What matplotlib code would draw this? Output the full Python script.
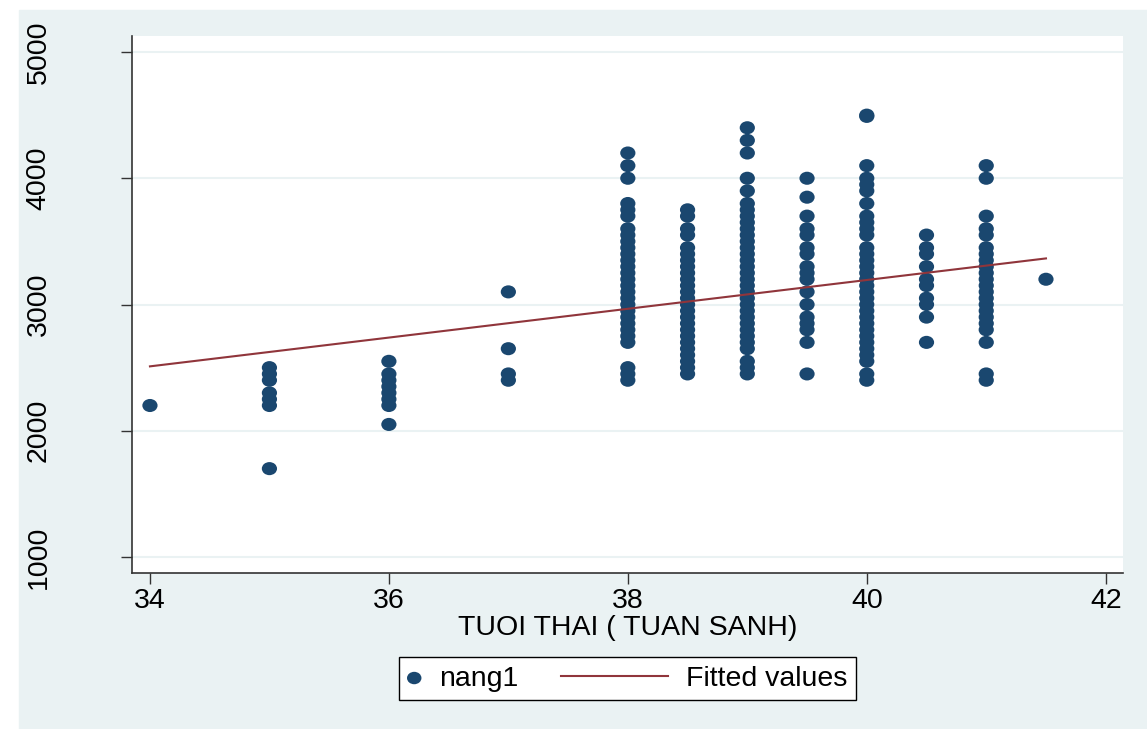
import matplotlib
matplotlib.use('Agg')
import matplotlib.pyplot as plt
from matplotlib.patches import Rectangle
from matplotlib.path import Path
from matplotlib.transforms import Affine2D
from matplotlib.lines import Line2D
from matplotlib.legend_handler import HandlerBase

plt.rcParams['font.family'] = ['Liberation Sans', 'DejaVu Sans']

# nang1 (birth weight, g) for each gestational week
w34 = [2200]
w35 = [2500, 2450, 2400, 2300, 2250, 2200, 1700]
w36 = [2550, 2450, 2400, 2350, 2300, 2250, 2200, 2050]
w37 = [3100, 2650, 2450, 2400]
w38 = [4200, 4100, 4000, 3800, 3750, 3700, 3600, 3550, 3500, 3450, 3400,
       3350, 3300, 3250, 3200, 3150, 3100, 3050, 3000, 2950, 2900, 2850,
       2800, 2750, 2700, 2500, 2450, 2400]
w38_5 = [3750, 3700, 3600, 3550, 3450, 3400, 3350, 3300, 3250, 3200, 3150,
         3100, 3050, 3000, 2950, 2900, 2850, 2800, 2750, 2700, 2650, 2600,
         2550, 2500, 2450]
w39 = [4400, 4300, 4200, 4000, 3900, 3800, 3750, 3700, 3650, 3600, 3550,
       3500, 3450, 3400, 3350, 3300, 3250, 3200, 3150, 3100, 3050, 3000,
       2950, 2900, 2850, 2800, 2750, 2700, 2650, 2550, 2500, 2450]
w39_5 = [4000, 3850, 3700, 3600, 3550, 3450, 3400, 3300, 3250, 3200, 3100,
         3000, 2900, 2850, 2800, 2700, 2450]
w40 = [4500, 4490, 4100, 4000, 3950, 3900, 3800, 3700, 3650, 3600, 3550,
       3450, 3400, 3350, 3300, 3250, 3200, 3150, 3100, 3050, 3000, 2950,
       2900, 2850, 2800, 2750, 2700, 2650, 2600, 2550, 2450, 2400]
w40_5 = [3550, 3450, 3400, 3300, 3200, 3150, 3050, 3000, 2900, 2700]
w41 = [4100, 4000, 3700, 3600, 3550, 3450, 3400, 3350, 3300, 3250, 3200,
       3150, 3100, 3050, 3000, 2950, 2900, 2850, 2800, 2700, 2450, 2400]
w41_5 = [3200]

weeks = [34, 35, 36, 37, 38, 38.5, 39, 39.5, 40, 40.5, 41, 41.5]
groups = [w34, w35, w36, w37, w38, w38_5, w39, w39_5, w40, w40_5, w41, w41_5]

# fitted values line (end points)
fit_x = [34, 41.5]
fit_y = [2510, 3365]

x = []
y = []
for wk, vals in zip(weeks, groups):
    x += [wk] * len(vals)
    y += vals

navy = '#1A476F'
maroon = '#90353B'
bg = '#EAF2F3'

# slightly flattened dot, like the stata export
dot = Path.unit_circle().transformed(Affine2D().scale(1, 0.86))


class LongLine(HandlerBase):
    # legend line longer than the (short) handle box, drawn leftwards
    def create_artists(self, legend, orig_handle, xdescent, ydescent,
                       width, height, fontsize, trans):
        yc = height / 2 - ydescent
        x1 = width - xdescent
        ln = Line2D([x1 - 77, x1], [yc, yc], color=maroon, linewidth=1.5)
        ln.set_transform(trans)
        return [ln]


fig = plt.figure(figsize=(11.47, 7.29), dpi=100, facecolor='white')
fig.patches.append(Rectangle((19 / 1147, 0), 1, 1 - 10 / 729,
                             transform=fig.transFigure, color=bg, zorder=-10))

ax = fig.add_axes([0.1148, 0.2144, 0.9791 - 0.1148, 0.9506 - 0.2144])
ax.set_facecolor('white')

ax.yaxis.grid(True, color=bg, linewidth=1.5)
ax.set_axisbelow(True)

pts = ax.scatter(x, y, s=120, marker=dot, color=navy, edgecolors='none',
                 zorder=3, label='nang1')
fit, = ax.plot(fit_x, fit_y, color=maroon, linewidth=1.5, zorder=4,
               label='Fitted values')

ax.set_xlim(33.847, 42.145)
ax.set_ylim(875.6, 5126.7)
ax.set_xticks([34, 36, 38, 40, 42])
ax.set_yticks([1000, 2000, 3000, 4000, 5000])

for s in ['top', 'right']:
    ax.spines[s].set_visible(False)
for s in ['left', 'bottom']:
    ax.spines[s].set_color('#333333')
    ax.spines[s].set_linewidth(1.2)

ax.tick_params(axis='both', direction='out', length=7.7, width=1.0,
               color='#333333', labelsize=20.5)
ax.tick_params(axis='x', pad=3)
ax.tick_params(axis='y', pad=50)
for lab in ax.get_yticklabels():
    lab.set_rotation(90)
    lab.set_va('center')

ax.set_xlabel('TUOI THAI ( TUAN SANH)', fontsize=20.5, labelpad=1)

leg = fig.legend([pts, fit], ['nang1', 'Fitted values'],
                 handler_map={fit: LongLine()},
                 loc='center', bbox_to_anchor=(627.5 / 1147, 1 - 678.5 / 729),
                 ncol=2, fontsize=20.5, frameon=True, fancybox=False,
                 edgecolor='black', framealpha=1, handlelength=0.49,
                 columnspacing=4.78, handletextpad=0.63, borderpad=0.3,
                 borderaxespad=0, markerscale=0.95)
leg.get_frame().set_linewidth(1.0)

fig.savefig('out.png', dpi=100)
